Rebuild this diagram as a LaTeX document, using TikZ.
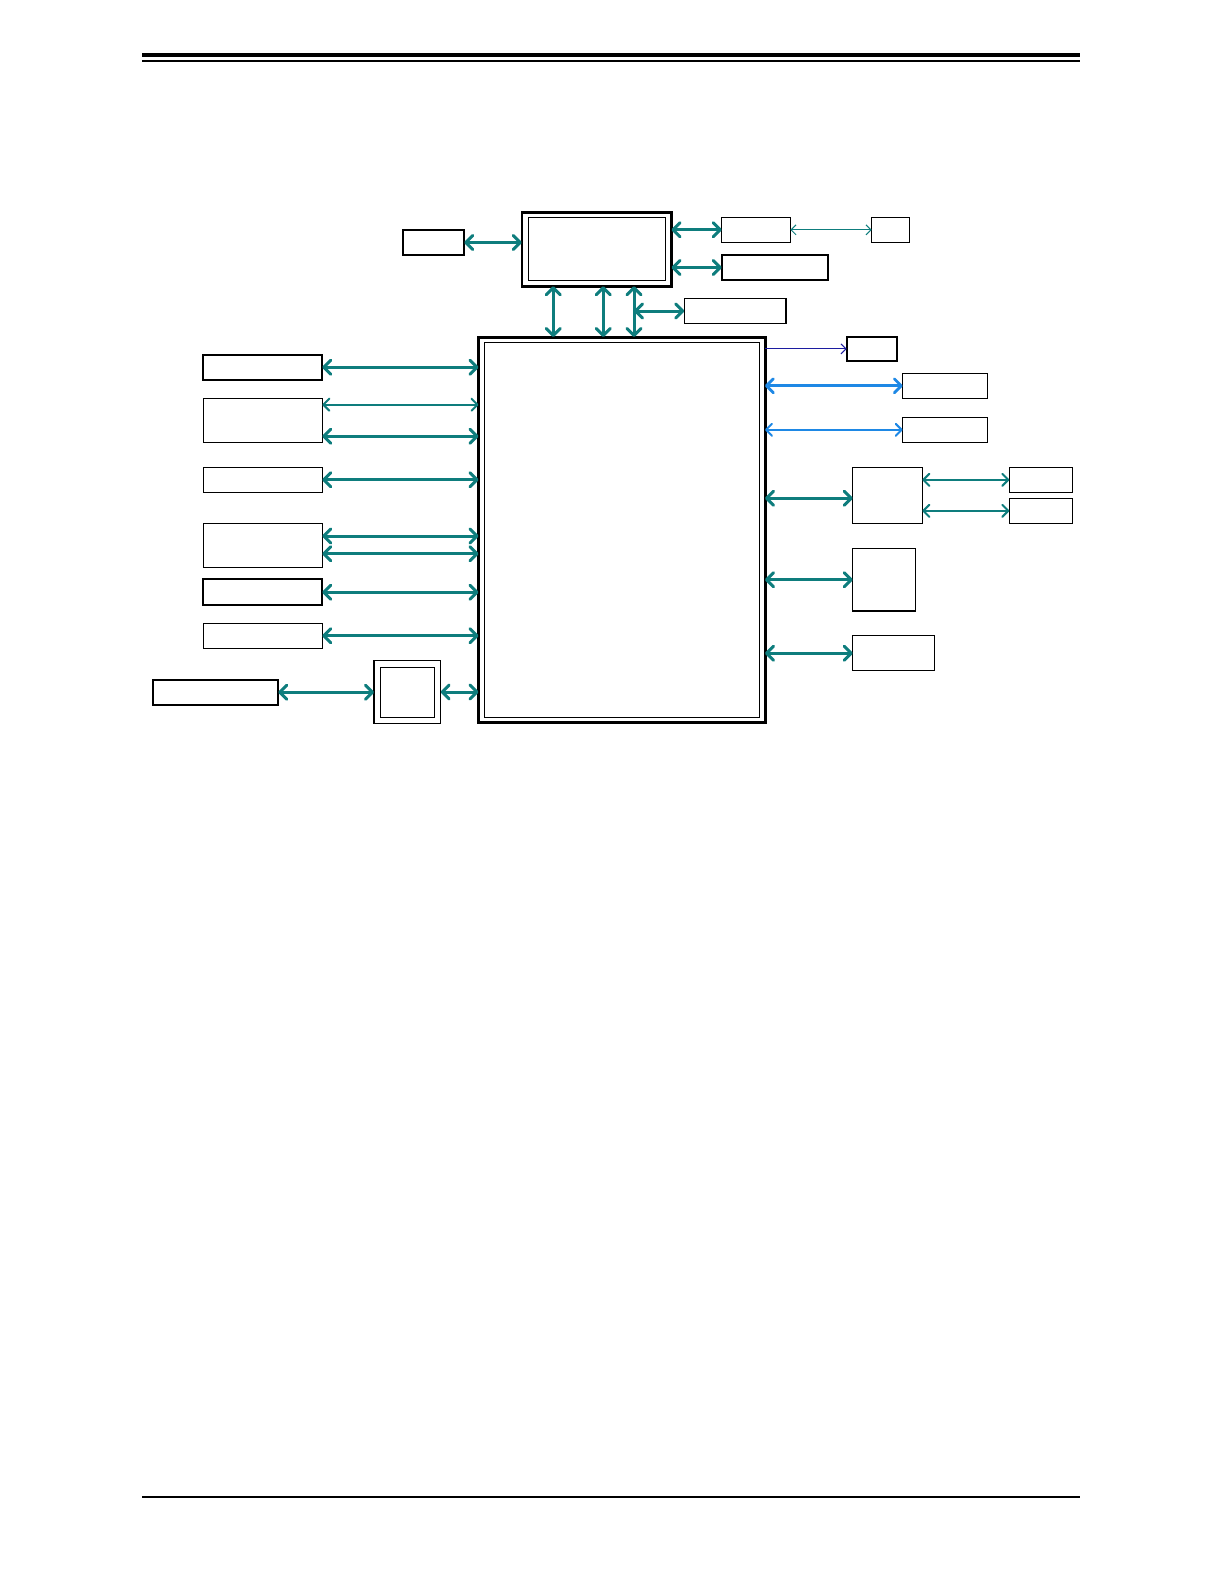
\documentclass[tikz,border=0pt]{standalone}
\usetikzlibrary{arrows.meta}
\definecolor{tl}{HTML}{0E7D7D}
\definecolor{bl}{HTML}{1E88E5}
\definecolor{nv}{HTML}{1C1CA0}
\tikzset{
  blk/.style={draw=black, rectangle, inner sep=0pt, outer sep=0pt, line width=0.75pt},
  bthin/.style={line width=0.5pt},
  bbold/.style={line width=1pt},
  lkA/.style={tl, line width=1.5pt, line cap=round,
    {Straight Barb[length=3.5pt,width=7pt,round]}-{Straight Barb[length=3.5pt,width=7pt,round]}},
  lkB/.style={tl, line width=1pt, line cap=round,
    {Straight Barb[length=3pt,width=6pt,round]}-{Straight Barb[length=3pt,width=6pt,round]}},
  lkC/.style={tl, line width=0.5pt,
    {Straight Barb[length=2.5pt,width=5pt]}-{Straight Barb[length=2.5pt,width=5pt]}},
  blA/.style={bl, line width=1.4pt, line cap=round,
    {Straight Barb[length=3.5pt,width=7pt,round]}-{Straight Barb[length=3.5pt,width=7pt,round]}},
  blB/.style={bl, line width=1pt, line cap=round,
    {Straight Barb[length=3pt,width=6pt,round]}-{Straight Barb[length=3pt,width=6pt,round]}},
  nvA/.style={nv, line width=0.5pt, -{Straight Barb[length=2.5pt,width=5pt]}},
}
\newcommand{\bx}[6][]{\node[blk,#1,minimum width=#5*0.5pt,minimum height=#6*0.5pt] (#2) at (#3,#4) {};}
\begin{document}
\begin{tikzpicture}[x=0.5pt,y=-0.5pt]
\useasboundingbox (0,0) rectangle (1224,1584);
% page rules
\draw[line width=2.25pt] (142,54.8) -- (1080,54.8);
\draw[line width=1pt] (142,61) -- (1080,61);
\draw[line width=1.25pt] (142,1497) -- (1080,1497);

% top block
\bx[bbold]{nbL}{433.5}{242.5}{61.6}{25}
\bx[line width=1.25pt]{nb}{596.65}{249.3}{149.7}{74}
\bx[bthin]{nbi}{597}{248.8}{136.6}{63}
\bx{r1}{756}{229.8}{68.6}{25}
\bx{r1far}{890.5}{229.8}{37.6}{25}
\bx[bbold]{r2}{775}{267.5}{106.6}{25}
\bx{r3}{735.15}{311}{101.7}{24.6}

% main block
\bx[line width=1.5pt]{main}{621.75}{529.5}{286.5}{385}
\bx[bthin]{maini}{622}{529.75}{275}{374.5}

% right side
\bx[bbold]{s1}{872}{348.9}{50.6}{24.3}
\bx{s2}{945}{385.8}{84.6}{25}
\bx{s3}{945}{429.8}{84.6}{25}
\bx{s4}{887.5}{495.3}{69.6}{56}
\bx{s4a}{1040.8}{479.8}{63}{25}
\bx{s4b}{1040.8}{510.8}{63}{25}
\bx{s5}{884}{579.7}{62.6}{62.7}
\bx{s6}{893.5}{653.2}{81.6}{35}

% left side
\bx[bbold]{L1}{262.8}{367.3}{119}{25.3}
\bx[bthin]{L2}{262.8}{420.5}{119}{43.6}
\bx[bthin]{L3}{262.8}{479.8}{119}{25}
\bx[bthin]{L4}{262.8}{545.3}{119}{44}
\bx[bbold]{L5}{262.8}{592.2}{119}{25.7}
\bx[bthin]{L6}{262.8}{635.7}{119}{24.7}
\bx[bbold]{L7}{215.8}{692.3}{125}{25.3}
\bx{H}{407.3}{692}{66.7}{62.6}
\bx[bthin]{Hi}{407.5}{692.3}{54.4}{50}

% helper coordinates
\coordinate (v1) at (553.3,0);
\coordinate (v2) at (603.3,0);
\coordinate (v3) at (634,0);
\coordinate (yL2a) at (0,404.7);
\coordinate (yL2b) at (0,436.3);
\coordinate (yL4a) at (0,536);
\coordinate (yL4b) at (0,553.7);
\coordinate (yS4) at (0,498.3);

% top connectors
\draw[lkA] (nbL.east) -- (nbL.east -| nb.west);
\draw[lkA] (r1.west -| nb.east) -- (r1.west);
\draw[lkC] (r1.east) -- (r1far.west);
\draw[lkA] (r2.west -| nb.east) -- (r2.west);
\draw[lkA] (nb.south -| v1) -- (main.north -| v1);
\draw[lkA] (nb.south -| v2) -- (main.north -| v2);
\draw[lkA] (nb.south -| v3) -- (main.north -| v3);
\draw[lkA] (r3.west -| v3) -- (r3.west);

% left connectors
\draw[lkA] (L1.east) -- (L1.east -| main.west);
\draw[lkB] (L2.east |- yL2a) -- (main.west |- yL2a);
\draw[lkA] (L2.east |- yL2b) -- (main.west |- yL2b);
\draw[lkA] (L3.east) -- (L3.east -| main.west);
\draw[lkA] (L4.east |- yL4a) -- (main.west |- yL4a);
\draw[lkA] (L4.east |- yL4b) -- (main.west |- yL4b);
\draw[lkA] (L5.east) -- (L5.east -| main.west);
\draw[lkA] (L6.east) -- (L6.east -| main.west);
\draw[lkA] (L7.east) -- (L7.east -| H.west);
\draw[lkA] (H.east) -- (H.east -| main.west);

% right connectors
\draw[nvA] (s1.west -| main.east) -- (s1.west);
\draw[blA] (s2.west -| main.east) -- (s2.west);
\draw[blB] (s3.west -| main.east) -- (s3.west);
\draw[lkA] (main.east |- yS4) -- (s4.west |- yS4);
\draw[lkB] (s4a.west -| s4.east) -- (s4a.west);
\draw[lkB] (s4b.west -| s4.east) -- (s4b.west);
\draw[lkA] (s5.west -| main.east) -- (s5.west);
\draw[lkA] (s6.west -| main.east) -- (s6.west);
\end{tikzpicture}
\end{document}
